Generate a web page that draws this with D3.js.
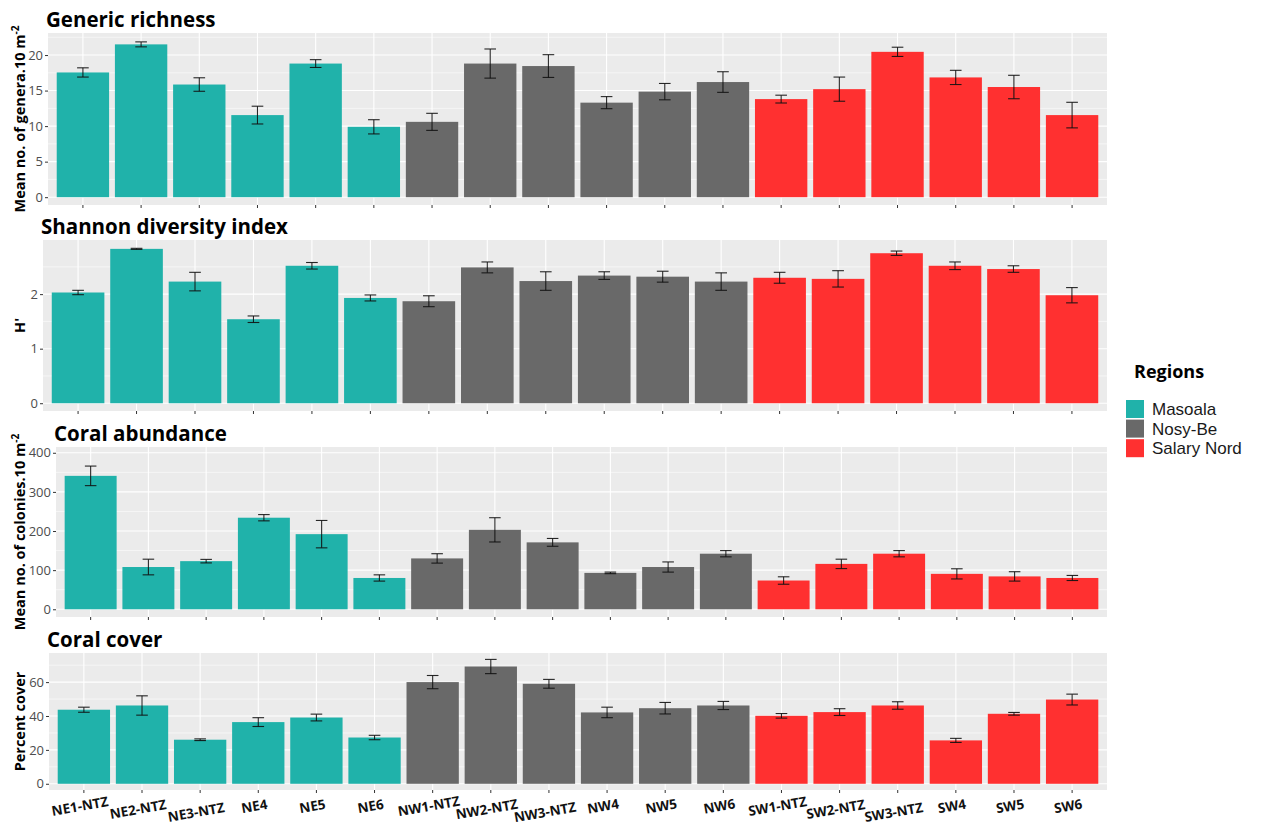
<!DOCTYPE html>
<html>
<head>
<meta charset="utf-8">
<script src="https://cdn.jsdelivr.net/npm/d3@7"></script>
<style>
  body { margin: 0; background: #fff; }
  svg { display: block; font-family: "Open Sans", "Noto Sans", sans-serif; }
</style>
</head>
<body>
<svg id="chart" width="1264" height="825"></svg>
<script>
// Survey sites and the region each belongs to
const sites = ["NE1-NTZ", "NE2-NTZ", "NE3-NTZ", "NE4", "NE5", "NE6",
               "NW1-NTZ", "NW2-NTZ", "NW3-NTZ", "NW4", "NW5", "NW6",
               "SW1-NTZ", "SW2-NTZ", "SW3-NTZ", "SW4", "SW5", "SW6"];
const siteRegions = ["Masoala", "Masoala", "Masoala", "Masoala", "Masoala", "Masoala",
                     "Nosy-Be", "Nosy-Be", "Nosy-Be", "Nosy-Be", "Nosy-Be", "Nosy-Be",
                     "Salary Nord", "Salary Nord", "Salary Nord", "Salary Nord", "Salary Nord", "Salary Nord"];
const regions = ["Masoala", "Nosy-Be", "Salary Nord"];
const regionColors = ["#20B2AA", "#696969", "#FF3030"];

// Generic richness (genera per 10 m2): mean and standard error
const richnessMean = [17.55, 21.5, 15.85, 11.55, 18.8, 9.9, 10.6, 18.8, 18.45, 13.3, 14.85, 16.2, 13.8, 15.2, 20.45, 16.85, 15.5, 11.55];
const richnessSE   = [0.65, 0.35, 0.95, 1.25, 0.55, 1.0, 1.2, 2.05, 1.6, 0.85, 1.15, 1.45, 0.55, 1.7, 0.65, 1.0, 1.65, 1.8];

// Shannon diversity index H'
const shannonMean = [2.03, 2.83, 2.23, 1.54, 2.52, 1.93, 1.87, 2.49, 2.24, 2.34, 2.32, 2.23, 2.30, 2.28, 2.75, 2.52, 2.46, 1.98];
const shannonSE   = [0.04, 0.01, 0.17, 0.06, 0.06, 0.055, 0.1, 0.1, 0.17, 0.07, 0.1, 0.16, 0.1, 0.15, 0.04, 0.07, 0.06, 0.14];

// Coral abundance (colonies per 10 m2)
const abundanceMean = [341, 108, 123, 234, 192, 80, 130, 203, 171, 93, 108, 142, 73.5, 116, 142, 90.5, 84, 80];
const abundanceSE   = [25, 20, 4.5, 8, 35, 8, 12, 31, 10, 2, 13, 8, 9.5, 12, 8, 13, 12, 6.5];

// Coral cover (%)
const coverMean = [43.7, 46.2, 26, 36.4, 39.1, 27.3, 60, 69.2, 59, 42.1, 44.6, 46.2, 40.1, 42.3, 46.2, 25.6, 41.3, 49.7];
const coverSE   = [1.5, 5.7, 0.5, 2.6, 2, 1.3, 3.9, 4.2, 2.6, 3.1, 3.4, 2.4, 1.35, 2, 2.2, 1.2, 0.8, 3.2];

// Axis ticks
const richnessTicks  = [0, 5, 10, 15, 20];
const shannonTicks   = [0, 1, 2];
const abundanceTicks = [0, 100, 200, 300, 400];
const coverTicks     = [0, 20, 40, 60];

const panels = [
  { title: "Generic richness", yTitle: "Mean no. of genera.10 m", sup: "-2",
    mean: richnessMean, se: richnessSE, ticks: richnessTicks, limit: 22.0,
    top: 33, bottom: 205, left: 48 },
  { title: "Shannon diversity index", yTitle: "H'", sup: "",
    mean: shannonMean, se: shannonSE, ticks: shannonTicks, limit: 2.85,
    top: 240, bottom: 411, left: 43 },
  { title: "Coral abundance", yTitle: "Mean no. of colonies.10 m", sup: "-2",
    mean: abundanceMean, se: abundanceSE, ticks: abundanceTicks, limit: 395,
    top: 447, bottom: 617, left: 56 },
  { title: "Coral cover", yTitle: "Percent cover", sup: "",
    mean: coverMean, se: coverSE, ticks: coverTicks, limit: 73.5,
    top: 653, bottom: 790, left: 49 }
];

const right = 1107;
const svg = d3.select("#chart");
const color = d3.scaleOrdinal().domain(regions).range(regionColors);

panels.forEach((p, pi) => {
  const g = svg.append("g");
  const x = d3.scaleBand().domain(sites).range([p.left, right])
    .paddingInner(0.1).paddingOuter(0.15);
  const pad = p.limit * 0.05;
  const y = d3.scaleLinear().domain([-pad, p.limit + pad]).range([p.bottom, p.top]);

  // panel background
  g.append("rect")
    .attr("x", p.left).attr("y", p.top)
    .attr("width", right - p.left).attr("height", p.bottom - p.top)
    .attr("fill", "#EBEBEB");

  // minor horizontal grid at midpoints between major ticks
  const step = p.ticks[1] - p.ticks[0];
  const minor = [];
  for (let v = p.ticks[0] + step / 2; v < y.domain()[1]; v += step) minor.push(v);
  g.selectAll(".minor").data(minor).join("line")
    .attr("x1", p.left).attr("x2", right)
    .attr("y1", d => y(d)).attr("y2", d => y(d))
    .attr("stroke", "#fff").attr("stroke-width", 0.55);

  // major horizontal grid
  g.selectAll(".major").data(p.ticks).join("line")
    .attr("x1", p.left).attr("x2", right)
    .attr("y1", d => y(d)).attr("y2", d => y(d))
    .attr("stroke", "#fff").attr("stroke-width", 1.1);

  // vertical grid at each site
  g.selectAll(".vgrid").data(sites).join("line")
    .attr("x1", d => x(d) + x.bandwidth() / 2).attr("x2", d => x(d) + x.bandwidth() / 2)
    .attr("y1", p.top).attr("y2", p.bottom)
    .attr("stroke", "#fff").attr("stroke-width", 1.1);

  // bars
  g.selectAll(".bar").data(sites).join("rect")
    .attr("x", d => x(d)).attr("width", x.bandwidth())
    .attr("y", (d, i) => y(p.mean[i]))
    .attr("height", (d, i) => y(0) - y(p.mean[i]))
    .attr("fill", (d, i) => color(siteRegions[i]));

  // error bars (mean ± SE)
  const capHalf = x.step() * 0.1;
  const eb = g.selectAll(".err").data(sites).join("g")
    .attr("stroke", "#111").attr("stroke-width", 1.1).attr("stroke-opacity", 0.9);
  eb.append("line")
    .attr("x1", d => x(d) + x.bandwidth() / 2).attr("x2", d => x(d) + x.bandwidth() / 2)
    .attr("y1", (d, i) => y(p.mean[i] - p.se[i])).attr("y2", (d, i) => y(p.mean[i] + p.se[i]));
  eb.append("line")
    .attr("x1", d => x(d) + x.bandwidth() / 2 - capHalf).attr("x2", d => x(d) + x.bandwidth() / 2 + capHalf)
    .attr("y1", (d, i) => y(p.mean[i] + p.se[i])).attr("y2", (d, i) => y(p.mean[i] + p.se[i]));
  eb.append("line")
    .attr("x1", d => x(d) + x.bandwidth() / 2 - capHalf).attr("x2", d => x(d) + x.bandwidth() / 2 + capHalf)
    .attr("y1", (d, i) => y(p.mean[i] - p.se[i])).attr("y2", (d, i) => y(p.mean[i] - p.se[i]));

  // y axis
  const ya = g.append("g").attr("transform", `translate(${p.left},0)`)
    .call(d3.axisLeft(y).tickValues(p.ticks).tickFormat(d3.format("~g")).tickSize(3).tickPadding(2));
  ya.select(".domain").remove();
  ya.selectAll(".tick line").attr("stroke", "#333");
  ya.selectAll(".tick text").attr("fill", "#4D4D4D").style("font-size", "13px")
    .style("font-family", "'Open Sans', sans-serif");

  // x axis ticks
  const xa = g.append("g").attr("transform", `translate(0,${p.bottom})`)
    .call(d3.axisBottom(x).tickSize(3).tickFormat(""));
  xa.select(".domain").remove();
  xa.selectAll(".tick line").attr("stroke", "#333");

  // site labels on the bottom panel only, no-take zones stepped down
  if (pi === panels.length - 1) {
    const ntzOffset = s => {
      const m = s.match(/(\d)-NTZ$/);
      return m ? (+m[1] - 1) * 3 : 0;
    };
    g.selectAll(".xlab").data(sites).join("text")
      .attr("transform", d => {
        const cx = x(d) + x.bandwidth() / 2 - 4;
        const cy = p.bottom + 16 + ntzOffset(d);
        return `translate(${cx},${cy}) rotate(-10)`;
      })
      .attr("text-anchor", "middle").attr("dominant-baseline", "central")
      .style("font-size", "13.5px").style("font-weight", "bold").attr("fill", "#111")
      .text(d => d);
  }

  // panel title
  g.append("text")
    .attr("x", p.left - 2).attr("y", p.top - 6)
    .style("font-size", "20.5px").style("font-weight", "bold").attr("fill", "#000")
    .text(p.title);

  // y axis title
  const yt = g.append("text")
    .attr("transform", `translate(25,${(p.top + p.bottom) / 2}) rotate(-90)`)
    .attr("text-anchor", "middle")
    .style("font-size", "14.5px").style("font-weight", "bold").attr("fill", "#000");
  yt.append("tspan").text(p.yTitle);
  if (p.sup) {
    yt.append("tspan").attr("dy", -6).style("font-size", "10px").text(p.sup);
  }
});

// legend
const legend = svg.append("g");
legend.append("text")
  .attr("x", 1134).attr("y", 378)
  .style("font-size", "18px").style("font-weight", "bold").attr("fill", "#000")
  .text("Regions");
const items = legend.selectAll(".item").data(regions).join("g")
  .attr("transform", (d, i) => `translate(1126,${400 + i * 19.6})`);
items.append("rect").attr("width", 18).attr("height", 18).attr("fill", d => color(d));
items.append("text")
  .attr("x", 26).attr("y", 15)
  .style("font-family", "'Liberation Sans', Arial, sans-serif")
  .style("font-size", "17px").attr("fill", "#1a1a1a")
  .text(d => d);
</script>
</body>
</html>
